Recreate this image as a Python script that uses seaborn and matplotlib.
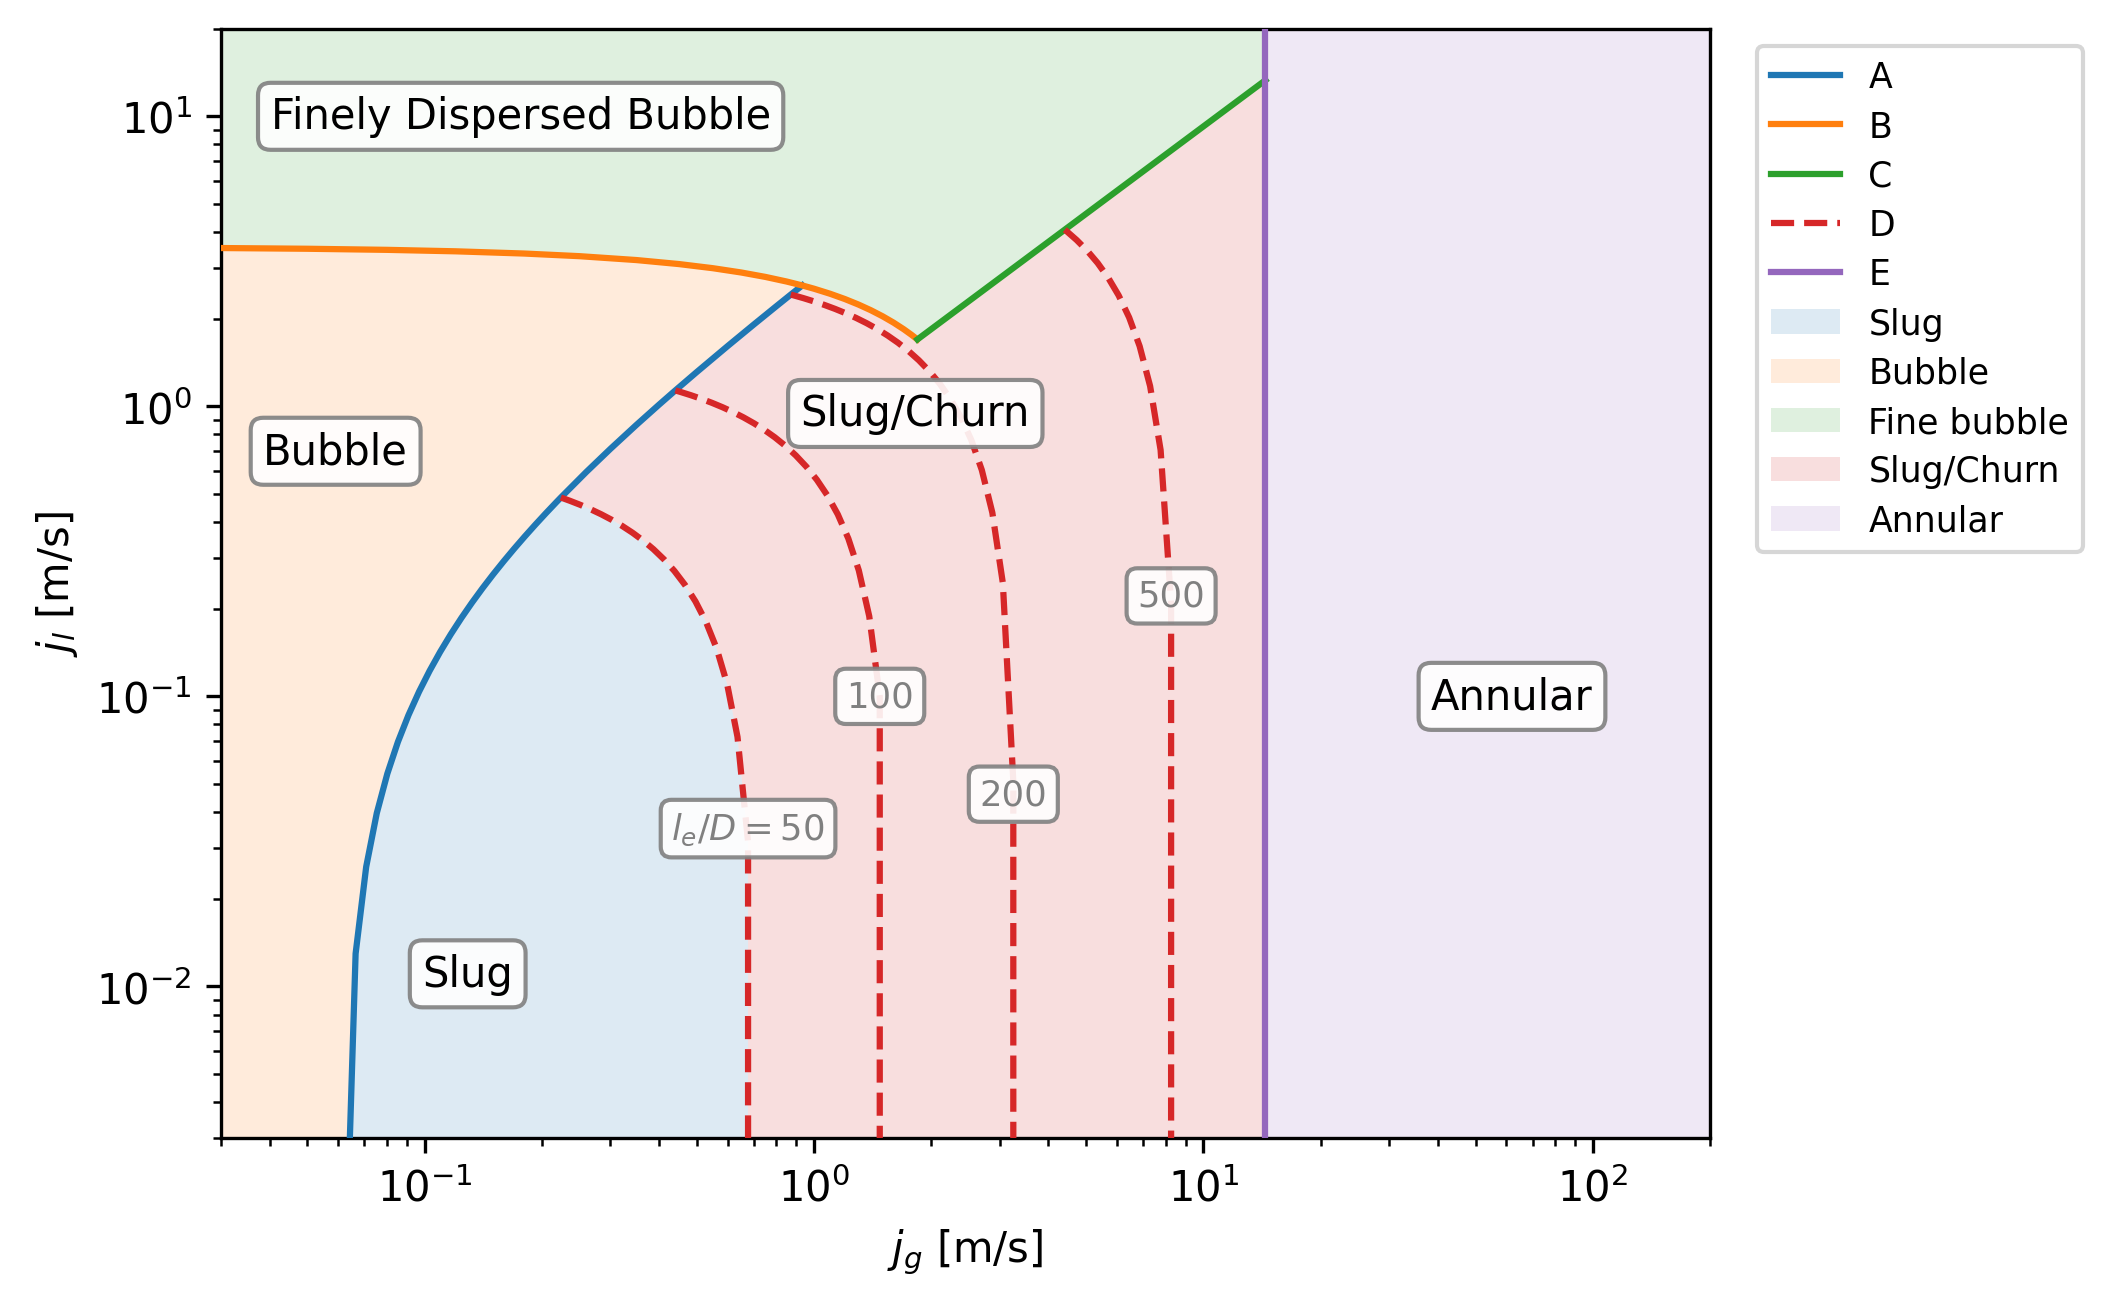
import numpy as np
import pandas as pd
import matplotlib
matplotlib.use("Agg")
import matplotlib.pyplot as plt
import seaborn as sns
from matplotlib.lines import Line2D
from matplotlib.patches import Patch

# ---------------- data ----------------
# Curve A (bubble -> slug boundary)
A_jg = [0.06246, 0.06649, 0.07078, 0.07535, 0.08021, 0.08538, 0.09089, 0.09675, 0.1030,
        0.1096, 0.1167, 0.1243, 0.1323, 0.1408, 0.1499, 0.1596, 0.1699, 0.1808, 0.1925,
        0.2049, 0.2181, 0.2238, 0.26, 0.30, 0.35, 0.40, 0.4404, 0.50, 0.60, 0.70, 0.80,
        0.8716, 0.9326]
A_jl = [0.00088, 0.01297, 0.02584, 0.03955, 0.05413, 0.06964, 0.08617, 0.10375, 0.1225,
        0.1423, 0.1636, 0.1864, 0.2104, 0.2359, 0.2632, 0.2923, 0.3232, 0.3559, 0.3910,
        0.4282, 0.4678, 0.4849, 0.5935, 0.7135, 0.8635, 1.0135, 1.1347, 1.3135, 1.6135,
        1.9135, 2.2135, 2.4283, 2.6113]

# Curve B (bubble -> finely dispersed bubble)
B_jg = [0.030, 0.050, 0.080, 0.120, 0.180, 0.250, 0.350, 0.450, 0.550, 0.650, 0.750,
        0.850, 0.9326, 1.000, 1.100, 1.200, 1.300, 1.400, 1.500, 1.600, 1.700, 1.780, 1.843]
B_jl = [3.514, 3.494, 3.464, 3.424, 3.364, 3.294, 3.194, 3.094, 2.994, 2.894, 2.794,
        2.694, 2.6114, 2.544, 2.444, 2.344, 2.244, 2.144, 2.044, 1.944, 1.844, 1.764, 1.701]

# Curve C (fine bubble -> slug/churn)
C_jg = [1.843, 14.43]
C_jl = [1.701, 13.32]

# Curve E (annular transition)
E_jg = [14.43, 14.43]
E_jl = [0.001, 100.0]

# Curves D (entrance length l_e/D = 50, 100, 200, 500)
D_labels = ["$l_e/D = 50$", "100", "200", "500"]
D50_jg = [0.2238, 0.236, 0.251, 0.267, 0.284, 0.302, 0.321, 0.342, 0.364, 0.387, 0.412,
          0.438, 0.466, 0.496, 0.528, 0.562, 0.598, 0.636, 0.677, 0.677]
D50_jl = [0.4849, 0.4725, 0.4575, 0.4415, 0.4245, 0.4065, 0.3875, 0.3665, 0.3445, 0.3215,
          0.2965, 0.2705, 0.2425, 0.2125, 0.1805, 0.1465, 0.1105, 0.0725, 0.0315, 0.002]
D100_jg = [0.4404, 0.454, 0.483, 0.514, 0.547, 0.582, 0.619, 0.659, 0.701, 0.746, 0.793,
           0.844, 0.898, 0.956, 1.017, 1.082, 1.151, 1.225, 1.303, 1.386, 1.475, 1.475]
D100_jl = [1.1347, 1.121, 1.092, 1.061, 1.028, 0.993, 0.956, 0.916, 0.874, 0.829, 0.782,
           0.731, 0.677, 0.619, 0.558, 0.493, 0.424, 0.350, 0.272, 0.189, 0.100, 0.002]
D200_jg = [0.8716, 0.883, 0.940, 1.000, 1.064, 1.132, 1.205, 1.282, 1.364, 1.451, 1.544,
           1.643, 1.748, 1.859, 1.978, 2.105, 2.240, 2.383, 2.535, 2.697, 2.870, 3.054,
           3.249, 3.249]
D200_jl = [2.4283, 2.417, 2.360, 2.300, 2.236, 2.168, 2.095, 2.018, 1.936, 1.849, 1.756,
           1.657, 1.552, 1.441, 1.322, 1.195, 1.060, 0.917, 0.765, 0.603, 0.430, 0.246,
           0.051, 0.002]
D500_jg = [4.405, 4.442, 4.726, 5.028, 5.350, 5.693, 6.057, 6.445, 6.857, 7.296, 7.763,
           8.26, 8.26]
D500_jl = [4.065, 4.028, 3.744, 3.442, 3.120, 2.777, 2.413, 2.025, 1.613, 1.174, 0.707,
           0.210, 0.002]
D_label_y = [0.035, 0.10, 0.046, 0.222]

regions = ["Slug", "Bubble", "Fine bubble", "Slug/Churn", "Annular"]
region_colors = ["tab:blue", "tab:orange", "tab:green", "tab:red", "tab:purple"]

XLIM = (0.03, 200)
YLIM = (0.003, 20)
FILL_ALPHA = 0.15

# ---------------- figure ----------------
fig = plt.figure(figsize=(2113 / 300, 1310 / 300), dpi=300)
ax = fig.add_axes([0.1046, 0.1305, 0.7047, 0.8466])
ax.set_xscale("log")
ax.set_yscale("log")

A = np.array([A_jg, A_jl]).T
B = np.array([B_jg, B_jl]).T
C = np.array([C_jg, C_jl]).T
D50 = np.array([D50_jg, D50_jl]).T
k50 = A_jg.index(D50_jg[0])
iB = B_jg.index(A_jg[-1])
low = 1e-4
top = 1e3

bubble_poly = np.vstack([[[1e-3, low]], [[A_jg[0], low]], A, B[:iB + 1][::-1], [[1e-3, B_jl[0]]]])
slug_poly = np.vstack([[[A_jg[0], low]], A[:k50 + 1], D50[1:], [[D50_jg[-1], low]]])
sc_poly = np.vstack([A[k50:], B[iB + 1:], C[1:], [[E_jg[0], low]], [[D50_jg[-1], low]], D50[::-1]])
fb_poly = np.vstack([[[1e-3, B_jl[0]]], B, C, [[E_jg[0], top]], [[1e-3, top]]])
an_poly = np.array([[E_jg[0], low], [1e4, low], [1e4, top], [E_jg[0], top]])

for poly, col in zip([slug_poly, bubble_poly, fb_poly, sc_poly, an_poly], region_colors):
    ax.fill(poly[:, 0], poly[:, 1], color=col, alpha=FILL_ALPHA, lw=0, zorder=1)

lw = 1.5
common = dict(ax=ax, estimator=None, sort=False, lw=lw, legend=False, zorder=3)
sns.lineplot(x=A_jg, y=A_jl, color="tab:blue", **common)
sns.lineplot(x=B_jg, y=B_jl, color="tab:orange", **common)
sns.lineplot(x=C_jg, y=C_jl, color="tab:green", **common)
for xs, ys in [(D50_jg, D50_jl), (D100_jg, D100_jl), (D200_jg, D200_jl), (D500_jg, D500_jl)]:
    sns.lineplot(x=xs, y=ys, color="tab:red", linestyle="--", **common)
sns.lineplot(x=E_jg, y=E_jl, color="tab:purple", **common)

# contour labels
lab_box = dict(boxstyle="round", facecolor="white", edgecolor="gray", alpha=0.9)
for lab, xs, yl in zip(D_labels, [D50_jg, D100_jg, D200_jg, D500_jg], D_label_y):
    ax.text(xs[-1], yl, lab, fontsize=8.5, color="gray", ha="center", va="center",
            bbox=lab_box, zorder=5)

# region labels
reg_box = dict(boxstyle="round", facecolor="white", edgecolor="gray", alpha=0.9)
ax.text(0.0402, 10.0, "Finely Dispersed Bubble", fontsize=10, ha="left", va="center", bbox=reg_box, zorder=6)
ax.text(0.0385, 0.70, "Bubble", fontsize=10, ha="left", va="center", bbox=reg_box, zorder=6)
ax.text(1.82, 0.945, "Slug/Churn", fontsize=10, ha="center", va="center", bbox=reg_box, zorder=6)
ax.text(0.129, 0.01105, "Slug", fontsize=10, ha="center", va="center", bbox=reg_box, zorder=6)
ax.text(62, 0.1, "Annular", fontsize=10, ha="center", va="center", bbox=reg_box, zorder=6)

ax.set_xlim(*XLIM)
ax.set_ylim(*YLIM)
ax.set_xlabel("$j_g$ [m/s]")
ax.set_ylabel("$j_l$ [m/s]")

handles = [
    Line2D([], [], color="tab:blue", lw=lw, label="A"),
    Line2D([], [], color="tab:orange", lw=lw, label="B"),
    Line2D([], [], color="tab:green", lw=lw, label="C"),
    Line2D([], [], color="tab:red", lw=lw, ls="--", label="D"),
    Line2D([], [], color="tab:purple", lw=lw, label="E"),
]
handles += [Patch(facecolor=c, alpha=FILL_ALPHA, lw=0, label=r) for r, c in zip(regions, region_colors)]
ax.legend(handles=handles, loc="upper left", bbox_to_anchor=(1.02, 1), fontsize="small",
          labelspacing=0.44)

fig.savefig("out.png", dpi=300)
